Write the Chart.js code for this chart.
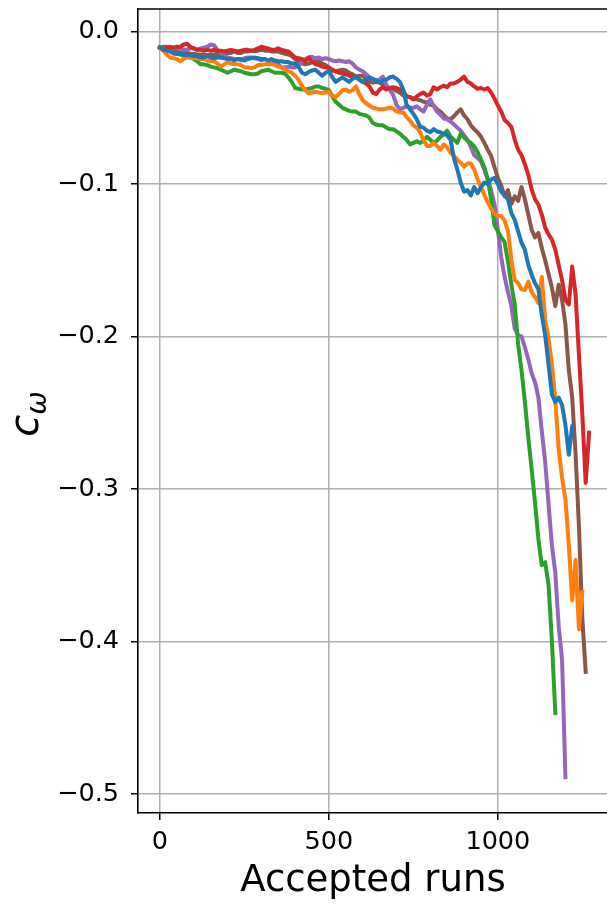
<!DOCTYPE html>
<html>
<head>
<meta charset="utf-8">
<script src="https://cdn.jsdelivr.net/npm/chart.js@4.4.0/dist/chart.umd.min.js"></script>
<style>
  html, body { margin: 0; padding: 0; background: #fff; }
  #wrap { width: 607px; height: 906px; }
</style>
</head>
<body>
<div id="wrap"><canvas id="cw" width="607" height="906"></canvas></div>
<script>
// accepted-run index shared by every chain
const runs = [
  0,10,20,30,40,50,60,70,80,90,100,110,120,130,140,150,160,170,180,190,
  200,210,220,230,240,250,260,270,280,290,300,310,320,330,340,350,360,370,380,390,
  400,410,420,430,440,450,460,470,480,490,500,510,520,530,540,550,560,570,580,590,
  600,610,620,630,640,650,660,670,680,690,700,710,720,730,740,750,760,770,780,790,
  800,810,820,830,840,850,860,870,880,890,900,910,920,930,940,950,960,970,980,990,
  1000,1010,1020,1030,1040,1050,1060,1070,1080,1090,1100,1110,1120,1130,1140,1150,1160,1170,1180,1190,
  1200,1210,1220,1230,1240,1250,1260,1270
];

const runTicks = [0, 500, 1000];
const cTicks = [-0.5, -0.4, -0.3, -0.2, -0.1, 0.0];

// c_omega along each chain
const chain1 = [
  -0.0105,-0.012,-0.0125,-0.013,-0.014,-0.0145,-0.0145,-0.015,-0.0155,-0.0155,
  -0.016,-0.016,-0.017,-0.017,-0.016,-0.017,-0.0175,-0.017,-0.017,-0.0175,
  -0.018,-0.018,-0.019,-0.018,-0.018,-0.019,-0.018,-0.0175,-0.017,-0.0175,
  -0.018,-0.018,-0.019,-0.018,-0.019,-0.0195,-0.0195,-0.020,-0.020,-0.021,
  -0.021,-0.023,-0.027,-0.028,-0.0265,-0.0255,-0.025,-0.027,-0.029,-0.027,
  -0.026,-0.030,-0.033,-0.0315,-0.030,-0.0315,-0.033,-0.031,-0.0295,-0.0315,
  -0.033,-0.0315,-0.030,-0.031,-0.032,-0.0335,-0.032,-0.0315,-0.030,-0.0295,
  -0.031,-0.033,-0.038,-0.048,-0.051,-0.054,-0.0575,-0.0625,-0.063,-0.065,
  -0.066,-0.064,-0.0655,-0.066,-0.067,-0.068,-0.071,-0.083,-0.0905,-0.099,
  -0.105,-0.104,-0.1075,-0.102,-0.106,-0.102,-0.099,-0.100,-0.097,-0.096,
  -0.100,-0.105,-0.1075,-0.110,-0.119,-0.1235,-0.131,-0.1385,-0.143,-0.153,
  -0.1595,-0.165,-0.169,-0.186,-0.199,-0.2185,-0.238,-0.243,-0.240,-0.245,
  -0.258,-0.2775,-0.259
];
const chain2 = [
  -0.0105,-0.0125,-0.015,-0.017,-0.0175,-0.018,-0.0195,-0.018,-0.017,-0.017,
  -0.0175,-0.0175,-0.018,-0.018,-0.019,-0.0195,-0.0195,-0.021,-0.023,-0.0215,
  -0.020,-0.021,-0.0215,-0.0215,-0.022,-0.0235,-0.0235,-0.024,-0.0235,-0.022,
  -0.022,-0.0215,-0.0215,-0.0215,-0.022,-0.023,-0.0235,-0.025,-0.026,-0.027,
  -0.029,-0.0315,-0.0355,-0.0385,-0.0405,-0.040,-0.0395,-0.040,-0.0405,-0.040,
  -0.0395,-0.042,-0.043,-0.041,-0.0385,-0.038,-0.0395,-0.0385,-0.036,-0.041,
  -0.045,-0.047,-0.0485,-0.050,-0.0505,-0.051,-0.051,-0.0505,-0.050,-0.0505,
  -0.0525,-0.053,-0.053,-0.056,-0.0585,-0.0615,-0.063,-0.066,-0.071,-0.075,
  -0.075,-0.073,-0.075,-0.0775,-0.074,-0.076,-0.0795,-0.0815,-0.084,-0.086,
  -0.0885,-0.0865,-0.0865,-0.0905,-0.097,-0.102,-0.107,-0.112,-0.116,-0.1195,
  -0.121,-0.121,-0.124,-0.131,-0.1495,-0.163,-0.165,-0.169,-0.1695,-0.164,
  -0.171,-0.174,-0.178,-0.161,-0.189,-0.201,-0.2185,-0.2415,-0.274,-0.2925,
  -0.307,-0.337,-0.373,-0.3465,-0.392,-0.3675
];
const chain3 = [
  -0.0105,-0.011,-0.0125,-0.013,-0.0145,-0.0145,-0.015,-0.016,-0.0165,-0.017,
  -0.018,-0.0195,-0.0215,-0.0215,-0.022,-0.023,-0.0235,-0.024,-0.025,-0.026,
  -0.027,-0.026,-0.025,-0.0255,-0.026,-0.027,-0.0275,-0.028,-0.028,-0.0275,
  -0.026,-0.0255,-0.025,-0.026,-0.027,-0.027,-0.027,-0.0275,-0.030,-0.033,
  -0.037,-0.0375,-0.038,-0.038,-0.0375,-0.037,-0.036,-0.036,-0.037,-0.0375,
  -0.0385,-0.0425,-0.046,-0.048,-0.050,-0.051,-0.052,-0.0525,-0.0525,-0.054,
  -0.0545,-0.055,-0.0565,-0.060,-0.061,-0.0615,-0.0615,-0.063,-0.064,-0.064,
  -0.0655,-0.067,-0.069,-0.071,-0.074,-0.073,-0.072,-0.073,-0.0715,-0.069,
  -0.071,-0.073,-0.0715,-0.069,-0.0675,-0.065,-0.069,-0.071,-0.073,-0.067,
  -0.0695,-0.0715,-0.073,-0.0755,-0.079,-0.084,-0.089,-0.097,-0.110,-0.127,
  -0.131,-0.135,-0.138,-0.151,-0.166,-0.179,-0.205,-0.222,-0.243,-0.266,
  -0.287,-0.309,-0.333,-0.350,-0.348,-0.363,-0.400,-0.447
];
const chain4 = [
  -0.0105,-0.0105,-0.0105,-0.0105,-0.0105,-0.010,-0.010,-0.0085,-0.008,-0.010,
  -0.011,-0.012,-0.012,-0.0125,-0.012,-0.0125,-0.012,-0.0125,-0.0125,-0.013,
  -0.0125,-0.012,-0.0125,-0.013,-0.0125,-0.012,-0.012,-0.0125,-0.012,-0.011,
  -0.010,-0.0105,-0.011,-0.012,-0.012,-0.011,-0.012,-0.0125,-0.013,-0.015,
  -0.017,-0.0175,-0.018,-0.0195,-0.017,-0.0195,-0.0215,-0.022,-0.023,-0.0235,
  -0.024,-0.0255,-0.026,-0.027,-0.0275,-0.028,-0.029,-0.0295,-0.030,-0.0315,
  -0.033,-0.034,-0.036,-0.040,-0.041,-0.038,-0.0365,-0.038,-0.037,-0.0365,
  -0.037,-0.038,-0.039,-0.0425,-0.043,-0.0445,-0.0425,-0.041,-0.040,-0.042,
  -0.041,-0.0365,-0.038,-0.0365,-0.0355,-0.0365,-0.034,-0.034,-0.033,-0.0315,
  -0.0295,-0.033,-0.034,-0.036,-0.0375,-0.037,-0.038,-0.037,-0.040,-0.044,
  -0.0485,-0.0525,-0.058,-0.060,-0.0625,-0.071,-0.0775,-0.081,-0.087,-0.094,
  -0.1035,-0.110,-0.1135,-0.120,-0.1285,-0.133,-0.1365,-0.143,-0.153,-0.163,
  -0.176,-0.179,-0.154,-0.1725,-0.212,-0.251,-0.296,-0.263
];
const chain5 = [
  -0.0105,-0.010,-0.010,-0.010,-0.0105,-0.011,-0.011,-0.012,-0.012,-0.011,
  -0.011,-0.012,-0.011,-0.0105,-0.010,-0.0085,-0.009,-0.012,-0.014,-0.016,
  -0.017,-0.0175,-0.018,-0.018,-0.019,-0.0175,-0.017,-0.017,-0.0175,-0.018,
  -0.019,-0.018,-0.019,-0.0195,-0.0195,-0.0215,-0.0235,-0.0235,-0.023,-0.0235,
  -0.0235,-0.022,-0.020,-0.018,-0.017,-0.0165,-0.0175,-0.017,-0.018,-0.0175,
  -0.018,-0.019,-0.0195,-0.019,-0.0195,-0.020,-0.0195,-0.021,-0.0235,-0.025,
  -0.026,-0.028,-0.030,-0.0315,-0.032,-0.0315,-0.0295,-0.035,-0.038,-0.0415,
  -0.048,-0.051,-0.050,-0.049,-0.050,-0.050,-0.049,-0.051,-0.0525,-0.048,
  -0.0445,-0.049,-0.0525,-0.0545,-0.057,-0.0575,-0.059,-0.061,-0.063,-0.065,
  -0.068,-0.071,-0.0755,-0.081,-0.083,-0.085,-0.0905,-0.097,-0.104,-0.1135,
  -0.130,-0.148,-0.161,-0.171,-0.180,-0.195,-0.199,-0.200,-0.207,-0.215,
  -0.224,-0.230,-0.240,-0.262,-0.282,-0.310,-0.337,-0.355,-0.390,-0.412,
  -0.489
];
const chain6 = [
  -0.0105,-0.011,-0.012,-0.0125,-0.013,-0.013,-0.014,-0.014,-0.014,-0.0145,
  -0.0145,-0.015,-0.015,-0.015,-0.0155,-0.015,-0.015,-0.0145,-0.015,-0.0145,
  -0.014,-0.014,-0.013,-0.014,-0.014,-0.013,-0.013,-0.0125,-0.013,-0.0125,
  -0.012,-0.0125,-0.0125,-0.013,-0.013,-0.013,-0.014,-0.0145,-0.015,-0.016,
  -0.018,-0.0195,-0.021,-0.0215,-0.021,-0.020,-0.020,-0.0195,-0.021,-0.022,
  -0.0235,-0.025,-0.026,-0.0255,-0.025,-0.0255,-0.027,-0.028,-0.0295,-0.029,
  -0.029,-0.031,-0.033,-0.0335,-0.033,-0.0335,-0.035,-0.037,-0.0375,-0.0375,
  -0.039,-0.040,-0.042,-0.0425,-0.043,-0.044,-0.0445,-0.045,-0.046,-0.0465,
  -0.048,-0.0485,-0.051,-0.0525,-0.055,-0.057,-0.0575,-0.0555,-0.053,-0.051,
  -0.055,-0.0575,-0.0615,-0.064,-0.066,-0.069,-0.073,-0.0775,-0.0815,-0.089,
  -0.096,-0.101,-0.108,-0.104,-0.113,-0.108,-0.111,-0.102,-0.110,-0.120,
  -0.130,-0.135,-0.132,-0.142,-0.150,-0.159,-0.168,-0.180,-0.166,-0.176,
  -0.192,-0.222,-0.240,-0.277,-0.325,-0.385,-0.420
];

const chains = [chain1, chain2, chain3, chain4, chain5, chain6];
const colors = ["#1f77b4", "#ff7f0e", "#2ca02c", "#d62728", "#9467bd", "#8c564b"];

const tickFont = { family: "'DejaVu Sans', sans-serif", size: 25.5 };

// top spine and the two axis labels
const frame = {
    id: "frame",
    afterDraw(chart) {
        const { ctx, chartArea: a } = chart;
        ctx.save();
        ctx.strokeStyle = "#000";
        ctx.lineWidth = 1.6;
        ctx.beginPath();
        ctx.moveTo(a.left - 0.8, a.top);
        ctx.lineTo(a.right + 2, a.top);
        ctx.stroke();

        ctx.fillStyle = "#000";
        ctx.font = "37px 'DejaVu Sans', sans-serif";
        ctx.textAlign = "center";
        ctx.textBaseline = "alphabetic";
        ctx.fillText("Accepted runs", 373, 891);

        // c with subscript omega, rotated
        ctx.translate(38, 414);
        ctx.rotate(-Math.PI / 2);
        ctx.textAlign = "left";
        ctx.font = "italic 40px 'DejaVu Sans', sans-serif";
        const wc = ctx.measureText("c").width;
        ctx.font = "italic 28px 'DejaVu Sans', sans-serif";
        const ww = ctx.measureText("\u03c9").width;
        const x0 = -(wc + ww) / 2;
        ctx.font = "italic 40px 'DejaVu Sans', sans-serif";
        ctx.fillText("c", x0, 0);
        ctx.font = "italic 28px 'DejaVu Sans', sans-serif";
        ctx.fillText("\u03c9", x0 + wc, 8);
        ctx.restore();
    }
};

const ctx = document.getElementById("cw").getContext("2d");

new Chart(ctx, {
    type: "line",
    data: {
        datasets: chains.map((vals, i) => ({
            data: vals.map((v, j) => ({ x: runs[j], y: v })),
            borderColor: colors[i],
            borderWidth: 4,
            pointRadius: 0,
            tension: 0,
            fill: false,
            borderJoinStyle: "round",
            borderCapStyle: "square"
        }))
    },
    options: {
        responsive: false,
        animation: false,
        devicePixelRatio: 1,
        layout: { padding: { top: 9, right: 0, bottom: 0, left: 0 } },
        plugins: {
            legend: { display: false },
            tooltip: { enabled: false }
        },
        scales: {
            x: {
                type: "linear",
                min: -65,
                max: 1323,
                afterFit(s) {
                    s.height = 93;
                    s.paddingLeft = 0;
                    s.paddingRight = 0;
                },
                afterBuildTicks(s) { s.ticks = runTicks.map(v => ({ value: v })); },
                grid: { color: "#b0b0b0", lineWidth: 1.5, tickLength: 7, tickColor: "#000", tickWidth: 1.5 },
                border: { color: "#000", width: 1.6 },
                ticks: {
                    color: "#000",
                    font: tickFont,
                    padding: 7,
                    maxRotation: 0,
                    autoSkip: false,
                    callback: v => String(v)
                }
            },
            y: {
                type: "linear",
                min: -0.5125,
                max: 0.0148,
                afterFit(s) {
                    s.width = 138;
                    s.paddingTop = 0;
                    s.paddingBottom = 0;
                },
                afterBuildTicks(s) { s.ticks = cTicks.map(v => ({ value: v })); },
                grid: { color: "#b0b0b0", lineWidth: 1.5, tickLength: 7, tickColor: "#000", tickWidth: 1.5 },
                border: { color: "#000", width: 1.6 },
                ticks: {
                    color: "#000",
                    font: tickFont,
                    padding: 12,
                    autoSkip: false,
                    callback: v => (v === 0 ? "0.0" : "\u2212" + Math.abs(v).toFixed(1))
                }
            }
        }
    },
    plugins: [frame]
});
</script>
</body>
</html>
